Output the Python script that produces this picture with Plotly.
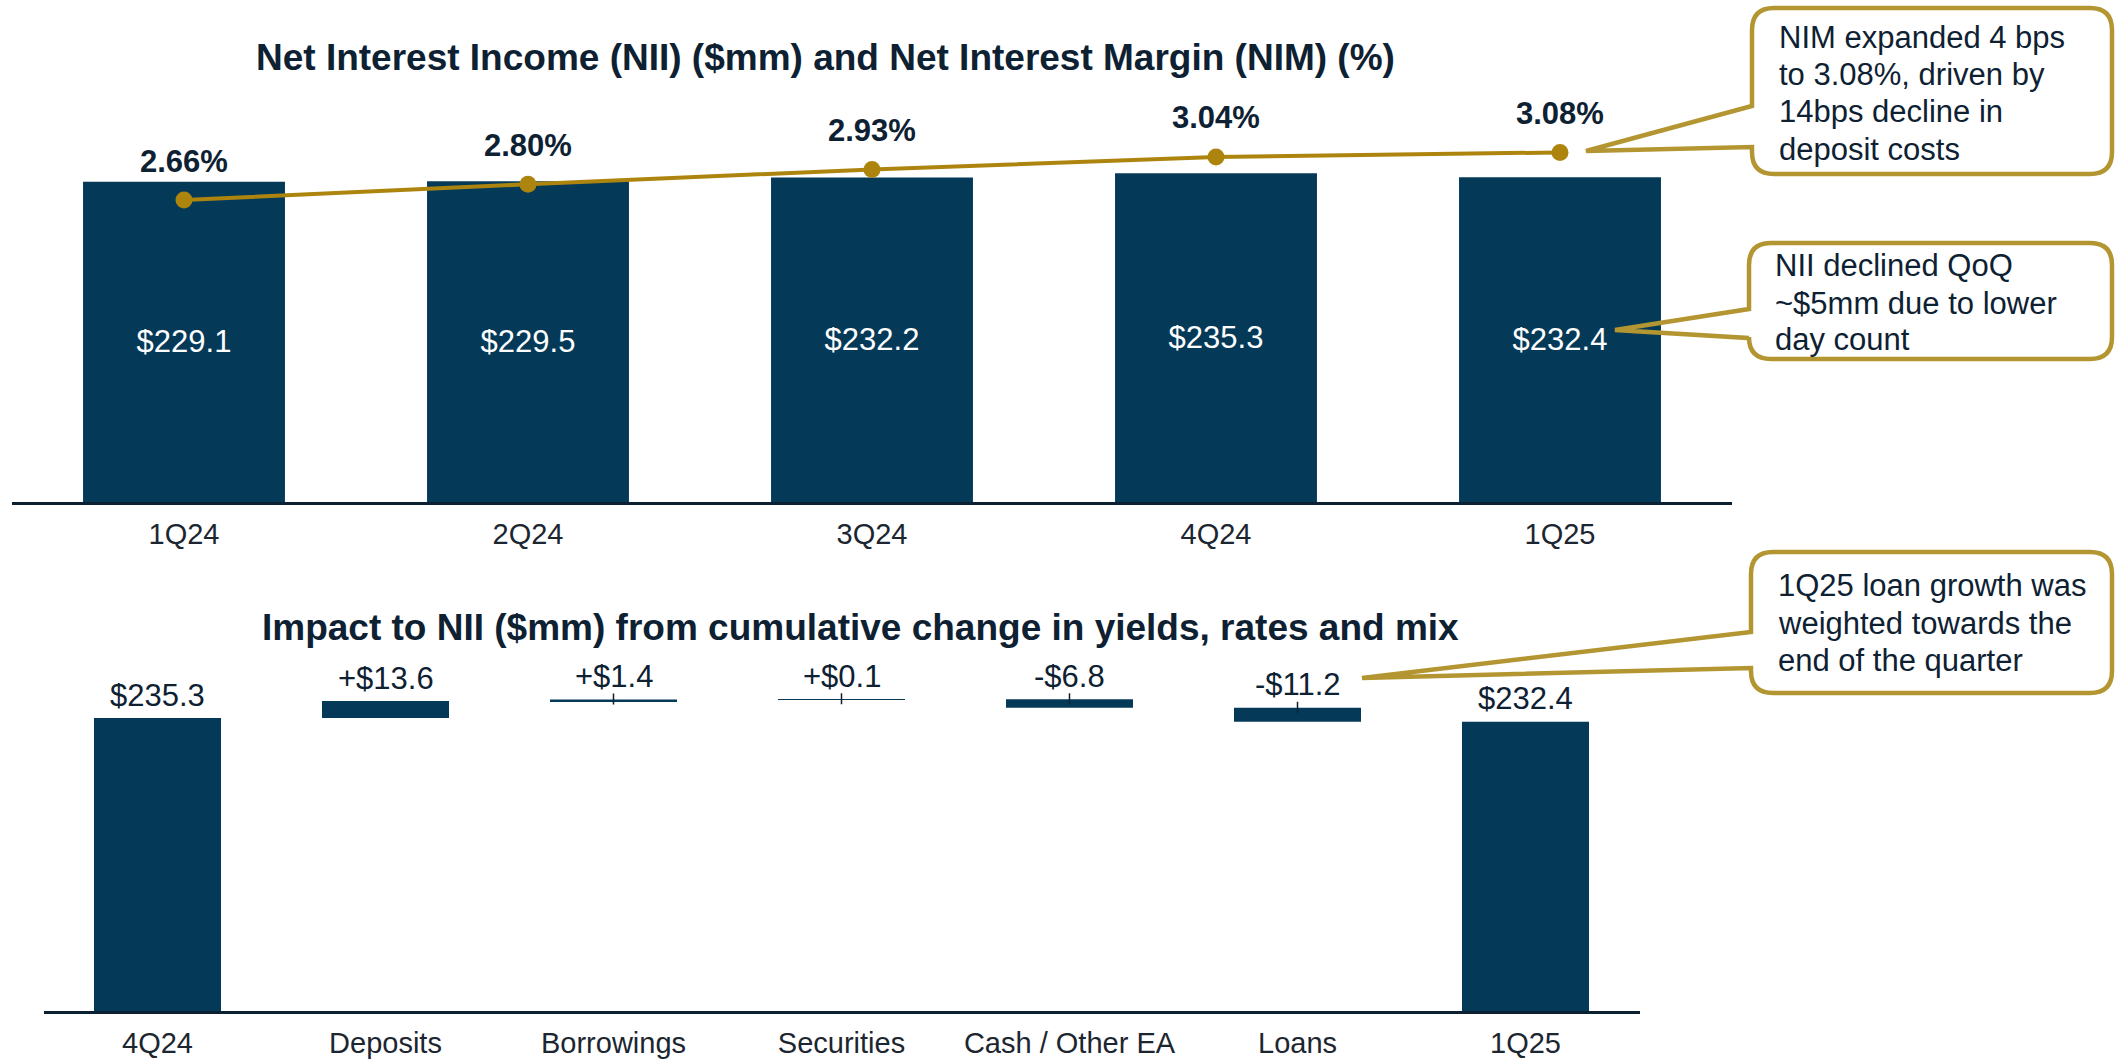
import plotly.graph_objects as go

# ---------------- data ----------------
quarters = ["1Q24", "2Q24", "3Q24", "4Q24", "1Q25"]
nii = [229.1, 229.5, 232.2, 235.3, 232.4]
nim = [2.66, 2.80, 2.93, 3.04, 3.08]

wf_cats = ["4Q24", "Deposits", "Borrowings", "Securities", "Cash / Other EA", "Loans", "1Q25"]
wf_vals = [235.3, 13.6, 1.4, 0.1, -6.8, -11.2, 232.4]
wf_measure = ["absolute", "relative", "relative", "relative", "relative", "relative", "total"]

title_top = "Net Interest Income (NII) ($mm) and Net Interest Margin (NIM) (%)"
title_bot = "Impact to NII ($mm) from cumulative change in yields, rates and mix"
callout1 = ["NIM expanded 4 bps", "to 3.08%, driven by", "14bps decline in", "deposit costs"]
callout2 = ["NII declined QoQ", "~$5mm due to lower", "day count"]
callout3 = ["1Q25 loan growth was", "weighted towards the", "end of the quarter"]

# ---------------- style ----------------
W, H = 2116, 1060
NAVY = "#043A58"
GOLD_LINE = "#AD850E"
GOLD_BOX = "#B39632"
TXT = "#0E2132"
TICK = "#1C2630"
AXIS = "#0B2030"
FONT = "Liberation Sans, Arial, sans-serif"


def px(x):
    return x / W


def py(y):
    return 1 - y / H


fig = go.Figure()

# top: NII bars
fig.add_trace(go.Bar(
    x=quarters, y=nii, xaxis="x", yaxis="y",
    marker=dict(color=NAVY, line=dict(width=0)),
    text=[f"${v:.1f}" for v in nii], textposition="inside",
    insidetextanchor="middle", textangle=0,
    textfont=dict(color="white", size=31, family=FONT),
    hoverinfo="skip", showlegend=False,
))
# top: NIM line
fig.add_trace(go.Scatter(
    x=quarters, y=nim, xaxis="x", yaxis="y2",
    mode="lines+markers",
    line=dict(color=GOLD_LINE, width=4),
    marker=dict(color=GOLD_LINE, size=17),
    cliponaxis=False, hoverinfo="skip", showlegend=False,
))

# bottom: waterfall
fig.add_trace(go.Waterfall(
    x=wf_cats, y=wf_vals, measure=wf_measure, xaxis="x2", yaxis="y3",
    increasing=dict(marker=dict(color=NAVY)),
    decreasing=dict(marker=dict(color=NAVY)),
    totals=dict(marker=dict(color=NAVY)),
    connector=dict(visible=False),
    hoverinfo="skip", showlegend=False,
))

annotations = []
shapes = []

# NIM labels
for q, v in zip(quarters, nim):
    annotations.append(dict(
        x=q, y=v, xref="x", yref="y2", text=f"<b>{v:.2f}%</b>",
        showarrow=False, yanchor="middle", xanchor="center", yshift=39,
        font=dict(size=31, color=TXT, family=FONT),
    ))

# waterfall labels + small leader ticks
level = 0.0
for i, (c, v, m) in enumerate(zip(wf_cats, wf_vals, wf_measure)):
    if m == "absolute":
        start, end = 0.0, v
        level = v
        lab = f"${v:.1f}"
    elif m == "total":
        start, end = 0.0, level
        lab = f"${level:.1f}"
    else:
        start, end = level, level + v
        level = level + v
        lab = f"{'+' if v > 0 else '-'}${abs(v):.1f}"
    top = max(start, end)
    annotations.append(dict(
        x=c, y=top, xref="x2", yref="y3", text=lab, showarrow=False,
        yanchor="middle", xanchor="center", yshift=23,
        font=dict(size=31, color=TXT, family=FONT),
    ))
    if m == "relative" and i >= 2:
        shapes.append(dict(
            type="line", xref="x2", yref="y3", x0=c, x1=c,
            ysizemode="pixel", yanchor=top, y0=-5, y1=6,
            line=dict(color=TXT, width=1.5), layer="above",
        ))

# titles
annotations.append(dict(x=px(825), y=py(58), xref="paper", yref="paper",
                        text=f"<b>{title_top}</b>", showarrow=False,
                        xanchor="center", yanchor="middle",
                        font=dict(size=37, color=TXT, family=FONT)))
annotations.append(dict(x=px(860), y=py(627), xref="paper", yref="paper",
                        text=f"<b>{title_bot}</b>", showarrow=False,
                        xanchor="center", yanchor="middle",
                        font=dict(size=37, color=TXT, family=FONT)))


# callouts
def callout(L, T, R, B, a1, a2, tip, lines, tx, centers):
    r = 22
    tipx, tipy = tip
    box = [
        f"M{px(L + r)},{py(T)}", f"L{px(R - r)},{py(T)}",
        f"Q{px(R)},{py(T)} {px(R)},{py(T + r)}",
        f"L{px(R)},{py(B - r)}", f"Q{px(R)},{py(B)} {px(R - r)},{py(B)}",
        f"L{px(L + r)},{py(B)}", f"Q{px(L)},{py(B)} {px(L)},{py(B - r)}",
        f"L{px(L)},{py(T + r)}", f"Q{px(L)},{py(T)} {px(L + r)},{py(T)}", "Z",
    ]
    shapes.append(dict(type="path", xref="paper", yref="paper", path=" ".join(box),
                       fillcolor="white", line=dict(width=0), layer="above"))
    outline = [
        f"M{px(L + r)},{py(T)}", f"L{px(R - r)},{py(T)}",
        f"Q{px(R)},{py(T)} {px(R)},{py(T + r)}",
        f"L{px(R)},{py(B - r)}", f"Q{px(R)},{py(B)} {px(R - r)},{py(B)}",
        f"L{px(L + r)},{py(B)}", f"Q{px(L)},{py(B)} {px(L)},{py(B - r)}",
        f"L{px(L)},{py(a2)}", f"L{px(tipx)},{py(tipy)}", f"L{px(L)},{py(a1)}",
        f"L{px(L)},{py(T + r)}", f"Q{px(L)},{py(T)} {px(L + r)},{py(T)}", "Z",
    ]
    shapes.append(dict(type="path", xref="paper", yref="paper", path=" ".join(outline),
                       fillcolor="rgba(0,0,0,0)", line=dict(color=GOLD_BOX, width=4.5),
                       layer="above"))
    for t, cy in zip(lines, centers):
        annotations.append(dict(x=px(tx), y=py(cy), xref="paper", yref="paper",
                                text=t, showarrow=False, xanchor="left", yanchor="middle",
                                font=dict(size=31, color=TXT, family=FONT)))


callout(1752, 8, 2112, 174, 106, 147, (1586, 151), callout1, 1777, [37, 74.5, 112, 149.5])
callout(1749, 243, 2112, 359, 309, 338, (1615, 330), callout2, 1773, [265, 303, 340])
callout(1751, 552, 2112, 693, 632, 668, (1362, 678), callout3, 1776, [585, 623, 660])

# axes geometry
top_y0, top_yt = 502, 100
bot_y0, bot_yt = 1011, 650
top_scale = 1.3975   # px per $mm
nim_scale = 113.5    # px per %
bot_scale = 1.245    # px per $mm

fig.update_layout(
    width=W, height=H,
    margin=dict(l=0, r=0, t=0, b=0),
    paper_bgcolor="white", plot_bgcolor="white",
    bargap=0.413, waterfallgap=0.443,
    font=dict(family=FONT, color=TICK),
    xaxis=dict(domain=[px(12), px(1732)], anchor="y", showline=True,
               linecolor=AXIS, linewidth=3, ticks="", showgrid=False, zeroline=False,
               tickfont=dict(size=29, color=TICK, family=FONT), fixedrange=True,
               ticklabelstandoff=4),
    yaxis=dict(domain=[py(top_y0), py(top_yt)], anchor="x",
               range=[0, (top_y0 - top_yt) / top_scale], visible=False,
               showgrid=False, zeroline=False),
    yaxis2=dict(domain=[py(top_y0), py(top_yt)], anchor="x", overlaying="y",
                range=[0, (top_y0 - top_yt) / nim_scale], visible=False,
                showgrid=False, zeroline=False),
    xaxis2=dict(domain=[px(43.5), px(1639.5)], anchor="y3", showline=True,
                linecolor=AXIS, linewidth=2.5, ticks="", showgrid=False, zeroline=False,
                tickfont=dict(size=29, color=TICK, family=FONT), fixedrange=True,
                ticklabelstandoff=4),
    yaxis3=dict(domain=[py(bot_y0), py(bot_yt)], anchor="x2",
                range=[0, (bot_y0 - bot_yt) / bot_scale], visible=False,
                showgrid=False, zeroline=False),
    annotations=annotations,
    shapes=shapes,
)

fig.write_html(
    "out.html",
    config={"displayModeBar": False, "responsive": False},
    post_script="document.body.style.margin='0';document.body.style.padding='0';document.body.style.overflow='hidden';",
)
